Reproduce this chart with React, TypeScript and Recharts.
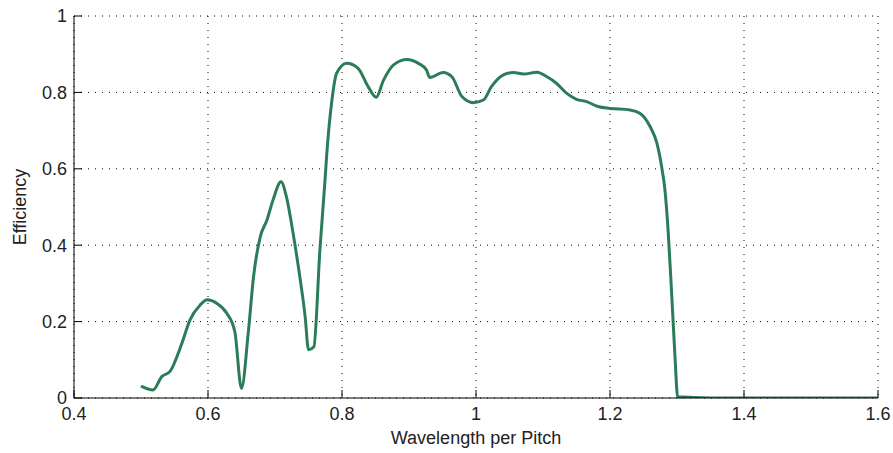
import React from 'react';
import { LineChart, Line, XAxis, YAxis, CartesianGrid } from 'recharts';

const wavelength = [
  0.5, 0.518, 0.531, 0.543, 0.561, 0.573, 0.588, 0.599, 0.613, 0.628, 0.64, 0.65,
  0.66, 0.668, 0.678, 0.688, 0.697, 0.709, 0.717, 0.727, 0.737, 0.745, 0.75, 0.758,
  0.767, 0.775, 0.777, 0.785, 0.792, 0.807, 0.824, 0.839, 0.851, 0.862, 0.877, 0.897,
  0.914, 0.926, 0.931, 0.951, 0.964, 0.979, 0.996, 1.011, 1.023, 1.041, 1.056, 1.071,
  1.091, 1.106, 1.12, 1.135, 1.15, 1.165, 1.182, 1.2, 1.23, 1.245, 1.26, 1.27, 1.277,
  1.282, 1.287, 1.292, 1.297, 1.301, 1.35, 1.4, 1.5, 1.6,
];
const efficiency = [
  0.031, 0.021, 0.056, 0.069, 0.143, 0.204, 0.243, 0.257, 0.248, 0.222, 0.174, 0.025,
  0.169, 0.318, 0.422, 0.466, 0.518, 0.566, 0.527, 0.431, 0.318, 0.213, 0.126, 0.134,
  0.387, 0.579, 0.632, 0.78, 0.85, 0.876, 0.863, 0.815, 0.787, 0.832, 0.872, 0.886,
  0.876, 0.859, 0.839, 0.852, 0.841, 0.789, 0.773, 0.78, 0.815, 0.846, 0.852, 0.848,
  0.853, 0.841, 0.824, 0.798, 0.782, 0.776, 0.763, 0.758, 0.754, 0.745, 0.71, 0.667,
  0.606, 0.545, 0.431, 0.274, 0.108, 0.003, 0, 0, 0, 0,
];
const xTicks = [0.4, 0.6, 0.8, 1, 1.2, 1.4, 1.6];
const yTicks = [0, 0.2, 0.4, 0.6, 0.8, 1];

const data = wavelength.map((w, i) => ({ w, e: efficiency[i] }));

const FONT = '"Liberation Sans", Arial, sans-serif';
const TXT = '#222';
const TL = 8;

const BottomTick = (p: any) => (
  <g>
    <line x1={p.x} x2={p.x} y1={p.y} y2={p.y - TL} stroke="#000" />
    <text x={p.x} y={p.y + 9} dy="0.71em" textAnchor="middle" fontSize={18} fontFamily={FONT} fill={TXT}>
      {String(p.payload.value)}
    </text>
  </g>
);
const TopTick = (p: any) => (
  <line x1={p.x} x2={p.x} y1={p.y} y2={p.y + TL} stroke="#000" />
);
const LeftTick = (p: any) => (
  <g>
    <line x1={p.x} x2={p.x + TL} y1={p.y} y2={p.y} stroke="#000" />
    <text x={p.x - 7} y={p.y} dy="0.35em" textAnchor="end" fontSize={18} fontFamily={FONT} fill={TXT}>
      {String(p.payload.value)}
    </text>
  </g>
);
const RightTick = (p: any) => (
  <line x1={p.x} x2={p.x - TL} y1={p.y} y2={p.y} stroke="#000" />
);

export default function App() {
  return (
    <div style={{ position: 'absolute', left: 0, top: 0, background: '#fff' }}>
      <LineChart width={893} height={453} data={data} margin={{ top: 16, right: 15, bottom: 25, left: 14 }}>
        <CartesianGrid stroke="#000" strokeDasharray="1 6" />
        <XAxis
          dataKey="w"
          type="number"
          domain={[0.4, 1.6]}
          ticks={xTicks}
          height={30}
          tickSize={0}
          tickMargin={0}
          tickLine={false}
          axisLine={{ stroke: '#000' }}
          tick={BottomTick}
          allowDataOverflow
          label={(props: any) => {
            const vb = props.viewBox;
            return (
              <text x={vb.x + vb.width / 2} y={vb.y + 40} dy="0.35em" textAnchor="middle" fontSize={18} fontFamily={FONT} fill={TXT}>
                Wavelength per Pitch
              </text>
            );
          }}
        />
        <XAxis
          xAxisId="top"
          orientation="top"
          dataKey="w"
          type="number"
          domain={[0.4, 1.6]}
          ticks={xTicks}
          height={0}
          tickSize={0}
          tickMargin={0}
          tickLine={false}
          axisLine={{ stroke: '#000' }}
          tick={TopTick}
          allowDataOverflow
        />
        <YAxis
          type="number"
          domain={[0, 1]}
          ticks={yTicks}
          width={60}
          tickSize={0}
          tickMargin={0}
          tickLine={false}
          axisLine={{ stroke: '#000' }}
          tick={LeftTick}
          allowDataOverflow
          label={(props: any) => {
            const vb = props.viewBox;
            const cx = vb.x + 6;
            const cy = vb.y + vb.height / 2;
            return (
              <text x={cx} y={cy} dy="0.35em" textAnchor="middle" transform={`rotate(-90 ${cx} ${cy})`} fontSize={18} fontFamily={FONT} fill={TXT}>
                Efficiency
              </text>
            );
          }}
        />
        <YAxis
          yAxisId="right"
          orientation="right"
          type="number"
          domain={[0, 1]}
          ticks={yTicks}
          width={0}
          tickSize={0}
          tickMargin={0}
          tickLine={false}
          axisLine={{ stroke: '#000' }}
          tick={RightTick}
          allowDataOverflow
        />
        <Line
          dataKey="e"
          type="monotone"
          stroke="#2b7d5a"
          strokeWidth={3}
          dot={false}
          isAnimationActive={false}
        />
      </LineChart>
    </div>
  );
}
